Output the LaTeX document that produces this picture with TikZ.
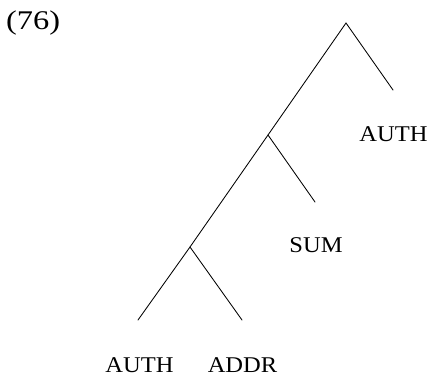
\documentclass[tikz,border=0pt]{standalone}
\usepackage{fontspec}
\setmainfont{Liberation Serif}
% slightly widened faces for the labels and the example number
\newfontfamily\labelface[FakeStretch=1.09]{Liberation Serif}
\newfontfamily\numface[FakeStretch=1.2]{Liberation Serif}
\begin{document}
\begin{tikzpicture}[x=1pt, y=-1pt,
    branch/.style={line width=0.85pt, line cap=round},
    leaflabel/.style={anchor=base, inner sep=0pt, font=\labelface\fontsize{22.5}{27}\selectfont},
    exnum/.style={anchor=base west, inner sep=0pt, font=\numface\fontsize{27}{32}\selectfont}]
  \useasboundingbox (0,0) rectangle (427,377);

  % example number
  \node[exnum] (num) at (6,30) {(76)};

  % branching points and branch ends
  \coordinate (root) at (346,23);
  \coordinate (mid)  at (268,135);
  \coordinate (low)  at (190,247);
  \coordinate (e1) at (393,90);
  \coordinate (e2) at (315,202);
  \coordinate (e3) at (138,320);
  \coordinate (e4) at (242,320);

  % tree branches
  \draw[branch] (e3) -- (low) -- (mid) -- (root) -- (e1);
  \draw[branch] (mid) -- (e2);
  \draw[branch] (low) -- (e4);

  % leaf labels
  \node[leaflabel] (auth1) at (393.5,141) {AUTH};
  \node[leaflabel] (sum)   at (316,252.5) {SUM};
  \node[leaflabel] (auth2) at (139.5,372) {AUTH};
  \node[leaflabel] (addr)  at (242.5,372) {ADDR};
\end{tikzpicture}
\end{document}
